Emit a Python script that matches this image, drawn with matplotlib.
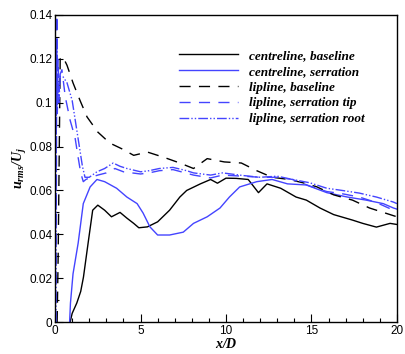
import numpy as np
import matplotlib
matplotlib.use('Agg')
import matplotlib.pyplot as plt
from matplotlib.ticker import MultipleLocator

#-------------------------------------------------------------------------------
# data
#-------------------------------------------------------------------------------
x_cl_base = [0.88, 1.0, 1.27, 1.5, 1.66, 1.95, 2.2, 2.5, 2.9, 3.3, 3.8, 4.2, 4.6, 4.9, 5.4,
             6.0, 6.7, 7.3, 7.7, 8.5, 9.1, 9.5, 10.0, 10.6, 11.3, 11.9, 12.4, 13.2, 14.1,
             14.7, 15.5, 16.3, 17.4, 18.0, 18.8, 19.6, 20.0]
y_cl_base = [0.0, 0.004, 0.0087, 0.014, 0.0205, 0.037, 0.051, 0.0533, 0.051, 0.048, 0.050,
             0.0474, 0.045, 0.043, 0.0434, 0.0457, 0.051, 0.057, 0.060, 0.063, 0.065, 0.0633,
             0.0656, 0.0655, 0.065, 0.059, 0.063, 0.061, 0.057, 0.0556, 0.052, 0.049, 0.0465,
             0.045, 0.0433, 0.045, 0.0445]

x_cl_serr = [0.85, 0.9, 1.05, 1.35, 1.65, 2.05, 2.45, 2.9, 3.6, 4.2, 4.8, 5.15, 5.55, 6.0,
             6.7, 7.5, 8.1, 8.9, 9.65, 10.2, 10.8, 11.8, 12.7, 13.6, 14.7, 15.9, 17.1, 18.2,
             19.2, 19.8, 20.0]
y_cl_serr = [0.0, 0.0087, 0.022, 0.036, 0.054, 0.0616, 0.065, 0.064, 0.061, 0.057, 0.054,
             0.0497, 0.0434, 0.0397, 0.0397, 0.041, 0.045, 0.048, 0.052, 0.057, 0.0616, 0.064,
             0.065, 0.063, 0.0625, 0.059, 0.057, 0.0556, 0.054, 0.052, 0.0515]

x_lp_base = [0.12, 0.18, 0.22, 0.26, 0.3, 0.45, 0.7, 1.05, 1.46, 1.87, 2.5, 3.2, 3.9, 4.6,
             5.4, 6.4, 7.3, 8.1, 8.9, 9.9, 10.9, 11.8, 12.7, 13.7, 14.5, 15.3, 16.3, 17.4,
             18.4, 19.6, 20.0]
y_lp_base = [0.0, 0.03, 0.06, 0.09, 0.12, 0.121, 0.117, 0.109, 0.101, 0.0935, 0.0866, 0.0816,
             0.079, 0.076, 0.0775, 0.075, 0.0725, 0.070, 0.0745, 0.073, 0.0725, 0.069, 0.066,
             0.065, 0.0635, 0.0617, 0.058, 0.0556, 0.052, 0.049, 0.048]

x_lp_tip = [0.05, 0.08, 0.1, 0.14, 0.18, 0.22, 0.3, 0.4, 0.6, 0.88, 1.17, 1.35, 1.5, 1.65,
            1.8, 2.1, 2.5, 3.0, 3.5, 4.0, 4.5, 5.0, 5.5, 6.1, 6.9, 8.1, 9.1, 9.8, 11.0, 12.0,
            13.0, 13.9, 14.9, 15.9, 16.8, 17.8, 18.8, 19.8, 20.0]
y_lp_tip = [0.0, 0.07, 0.14, 0.10, 0.12, 0.105, 0.113, 0.115, 0.1025, 0.092, 0.084, 0.075,
            0.068, 0.064, 0.065, 0.066, 0.067, 0.068, 0.070, 0.0685, 0.068, 0.0675, 0.068,
            0.069, 0.0695, 0.067, 0.0657, 0.067, 0.0665, 0.066, 0.066, 0.065, 0.062, 0.0595,
            0.0585, 0.057, 0.0545, 0.051, 0.050]

x_lp_root = [0.05, 0.07, 0.1, 0.13, 0.17, 0.22, 0.3, 0.45, 0.7, 1.0, 1.3, 1.6, 1.75, 2.0,
             2.45, 2.9, 3.4, 3.8, 4.2, 5.0, 5.5, 6.1, 6.9, 7.7, 8.1, 9.1, 9.8, 11.0, 12.0,
             13.0, 13.9, 14.9, 15.9, 16.8, 17.8, 18.8, 19.8, 20.0]
y_lp_root = [0.0, 0.09, 0.125, 0.095, 0.11, 0.10, 0.112, 0.112, 0.109, 0.101, 0.086, 0.071,
             0.066, 0.066, 0.0685, 0.070, 0.0725, 0.071, 0.070, 0.0685, 0.069, 0.070, 0.0705,
             0.069, 0.068, 0.067, 0.068, 0.0668, 0.066, 0.0665, 0.065, 0.0635, 0.061, 0.060,
             0.0588, 0.057, 0.0547, 0.054]

labels = ['centreline, baseline', 'centreline, serration', 'lipline, baseline',
          'lipline, serration tip', 'lipline, serration root']
#-------------------------------------------------------------------------------
plt.rcParams['mathtext.fontset'] = 'custom'
plt.rcParams['mathtext.it'] = 'Liberation Serif:italic:bold'
plt.rcParams['mathtext.rm'] = 'Liberation Serif:italic:bold'

blue = '#4444ff'
fig = plt.figure(figsize=(4.05, 3.54), dpi=100)
ax = fig.add_axes([0.136, 0.090, 0.844, 0.868])

ax.plot(x_cl_base, y_cl_base, color='k', lw=1.0, label=labels[0])
ax.plot(x_cl_serr, y_cl_serr, color=blue, lw=1.0, label=labels[1])
ax.plot(x_lp_base, y_lp_base, color='k', lw=1.0, dashes=(8, 6), label=labels[2])
ax.plot(x_lp_tip, y_lp_tip, color=blue, lw=1.0, dashes=(8, 6), label=labels[3])
ax.plot(x_lp_root, y_lp_root, color=blue, lw=1.0, dashes=(7, 1.5, 1, 1.5, 1, 1.5), label=labels[4])

ax.set_xlim(0, 20)
ax.set_ylim(0, 0.14)
ax.xaxis.set_major_locator(MultipleLocator(5))
ax.xaxis.set_minor_locator(MultipleLocator(1))
ax.yaxis.set_major_locator(MultipleLocator(0.02))
ax.yaxis.set_minor_locator(MultipleLocator(0.01))
ax.set_xticks([0, 5, 10, 15, 20])
ax.set_xticklabels(['0', '5', '10', '15', '20'])
ax.set_yticks([0, 0.02, 0.04, 0.06, 0.08, 0.1, 0.12, 0.14])
ax.set_yticklabels(['0', '0.02', '0.04', '0.06', '0.08', '0.1', '0.12', '0.14'])
ax.tick_params(which='both', direction='in', top=False, right=False,
               labelsize=8.5, width=0.8)
ax.tick_params(which='major', length=6, pad=2)
ax.tick_params(which='minor', length=3)
for lab in ax.get_xticklabels() + ax.get_yticklabels():
    lab.set_family('Liberation Sans')
for s in ax.spines.values():
    s.set_linewidth(1.0)

ax.set_xlabel('$x/D$', fontsize=10, labelpad=0)
ax.set_ylabel('$u_{rms}/U_j$', fontsize=10, labelpad=0)

leg = ax.legend(loc='upper left', bbox_to_anchor=(0.327, 0.925), frameon=False,
                handlelength=4.5, handletextpad=0.8, labelspacing=0.27,
                prop={'family': 'Liberation Serif', 'style': 'italic',
                      'weight': 'bold', 'size': 9.5})

plt.savefig('out.png', dpi=100)
